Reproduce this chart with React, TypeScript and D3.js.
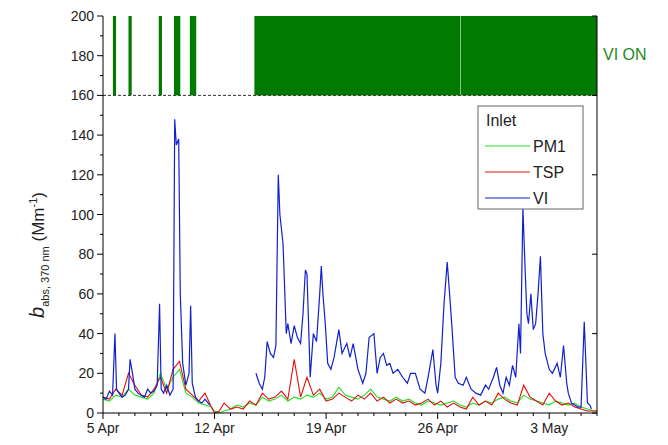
import * as d3 from 'd3';

// days since 5 Apr
const viDays = [0, 0.2, 0.4, 0.6, 0.75, 0.85, 1.0, 1.2, 1.4, 1.6, 1.7, 1.85, 2.0, 2.2, 2.4, 2.6, 2.8, 3.0, 3.2, 3.4, 3.55, 3.65, 3.8, 4.0, 4.2, 4.4, 4.5, 4.6, 4.75, 4.85, 5.0, 5.2, 5.4, 5.5, 5.6, 5.8, 6.0, 6.2, 6.4, 6.7,
  null,
  9.6, 9.8, 10.0, 10.15, 10.3, 10.5, 10.7, 10.85, 11.0, 11.1, 11.3, 11.5, 11.6, 11.8, 12.0, 12.2, 12.4, 12.55, 12.7, 12.8, 12.9, 13.0, 13.2, 13.4, 13.6, 13.7, 13.8, 13.95, 14.1, 14.3, 14.5, 14.8, 15.0, 15.3, 15.5, 15.7, 16.0, 16.3, 16.5, 16.7, 17.0, 17.2, 17.4, 17.6, 17.8, 18.0, 18.2, 18.5, 18.8, 19.1, 19.3, 19.6, 19.9, 20.2, 20.4, 20.7, 20.9, 21.0, 21.2, 21.4, 21.6, 21.75, 21.9, 22.1, 22.3, 22.6, 22.8, 23.1, 23.4, 23.7, 24.0, 24.2, 24.5, 24.7, 24.9, 25.1, 25.3, 25.5, 25.7, 25.9, 26.1, 26.2, 26.35, 26.5, 26.6, 26.7, 26.85, 27.0, 27.15, 27.3, 27.45, 27.6, 27.75, 28.0, 28.2, 28.5, 28.7, 28.9, 29.1, 29.2, 29.4, 29.6, 29.8, 30.0, 30.2, 30.4, 30.55, 30.65, 30.8, 31.0];
const viValues = [8, 7, 11, 9, 40, 12, 10, 8, 9, 12, 27, 20, 12, 10, 9, 8, 12, 10, 11, 14, 55, 12, 10, 14, 9, 12, 148, 135, 138, 60, 25, 14, 20, 54, 15, 8, 6, 5, 7, 4,
  null,
  20, 15, 12, 18, 36, 30, 28, 34, 120, 100, 85, 40, 45, 35, 44, 38, 35, 50, 72, 70, 45, 18, 40, 36, 60, 74, 60, 45, 25, 22, 28, 42, 30, 35, 28, 35, 22, 15, 20, 38, 40, 20, 28, 30, 24, 25, 20, 22, 18, 15, 20, 20, 12, 10, 18, 32, 14, 10, 25, 55, 76, 60, 43, 18, 15, 14, 18, 12, 10, 9, 14, 12, 18, 23, 14, 10, 18, 14, 24, 18, 45, 30, 103, 70, 50, 45, 60, 42, 45, 60, 79, 40, 30, 22, 20, 25, 18, 34, 15, 10, 5, 4, 3, 3, 46, 5, 4, 2];

const pmDays = [0, 0.4, 0.8, 1.2, 1.6, 2.0, 2.4, 2.8, 3.2, 3.6, 4.0, 4.4, 4.8, 5.2, 5.6, 6.0, 6.4, 6.8, 7.0, 7.3, 7.6, 8.0, 8.4, 8.8, 9.2, 9.6, 10.0, 10.4, 10.8, 11.2, 11.6, 12.0, 12.4, 12.8, 13.2, 13.6, 14.0, 14.4, 14.8, 15.2, 15.6, 16.0, 16.4, 16.8, 17.2, 17.6, 18.0, 18.4, 18.8, 19.2, 19.6, 20.0, 20.4, 20.8, 21.2, 21.6, 22.0, 22.4, 22.8, 23.2, 23.6, 24.0, 24.4, 24.8, 25.2, 25.6, 26.0, 26.4, 26.8, 27.2, 27.6, 28.0, 28.4, 28.8, 29.2, 29.6, 30.0, 30.4, 30.8, 31.0];
const pm1Values = [7, 6, 9, 8, 12, 9, 8, 7, 10, 20, 12, 18, 22, 10, 8, 5, 4, 3, 1, 0, 1, 2, 4, 3, 5, 4, 8, 6, 7, 9, 6, 8, 7, 9, 8, 10, 7, 8, 13, 9, 8, 7, 9, 12, 8, 7, 6, 8, 6, 7, 5, 4, 6, 5, 4, 5, 6, 4, 3, 5, 4, 6, 5, 7, 8, 6, 5, 9, 7, 6, 5, 4, 6, 5, 4, 5, 3, 2, 1, 1];
const tspValues = [8, 7, 12, 9, 20, 14, 9, 8, 12, 18, 10, 22, 26, 12, 9, 6, 10, 3, 0, 1, 5, 2, 3, 2, 6, 4, 10, 7, 8, 11, 7, 27, 8, 18, 9, 12, 6, 7, 10, 8, 6, 9, 7, 10, 6, 8, 5, 7, 5, 6, 4, 5, 7, 4, 6, 3, 5, 3, 2, 8, 4, 6, 4, 10, 7, 5, 4, 14, 8, 6, 4, 10, 6, 4, 5, 3, 2, 1, 1, 1];

const viOnStart = [0.62, 1.6, 3.5, 4.45, 5.45, 9.5, 22.45];
const viOnEnd = [0.82, 1.8, 3.7, 4.85, 5.85, 22.42, 31];

const yTicks = [0, 20, 40, 60, 80, 100, 120, 140, 160, 180, 200];
const xTickLabels = ['5 Apr', '12 Apr', '19 Apr', '26 Apr', '3 May'];

export default function App() {
  const left = 103, right = 597, top = 16, bottom = 413;
  const x = d3.scaleLinear().domain([0, 31]).range([left, right]);
  const y = d3.scaleLinear().domain([0, 200]).range([bottom, top]);

  const mk = (days: (number | null)[], vals: (number | null)[]) =>
    d3.line<number>()
      .defined(i => days[i] !== null && vals[i] !== null)
      .x(i => x(days[i] as number))
      .y(i => y(vals[i] as number))(d3.range(days.length)) || '';

  const font = 'Liberation Sans, Arial, sans-serif';
  return (
    <svg width={668} height={445} style={{ position: 'absolute', left: 0, top: 0, fontFamily: font }}>
      {viOnStart.map((s, i) => (
        <rect key={i} x={x(s)} y={y(200)} width={x(viOnEnd[i]) - x(s)} height={y(160) - y(200)} fill="#007a00" />
      ))}
      <line x1={left} x2={right} y1={y(160)} y2={y(160)} stroke="#333" strokeDasharray="3,2" strokeWidth={1} />
      <path d={mk(pmDays, pm1Values)} fill="none" stroke="#22dd22" strokeWidth={1.1} />
      <path d={mk(pmDays, tspValues)} fill="none" stroke="#e01010" strokeWidth={1.1} />
      <path d={mk(viDays, viValues)} fill="none" stroke="#1020cc" strokeWidth={1.2} />
      {/* axes */}
      <line x1={left} x2={left} y1={top} y2={bottom} stroke="#000" />
      <line x1={right} x2={right} y1={top} y2={bottom} stroke="#000" />
      <line x1={left} x2={right} y1={bottom} y2={bottom} stroke="#000" />
      {d3.range(0, 201, 10).map(v => {
        const major = v % 20 === 0;
        return (
          <g key={v}>
            <line x1={left - (major ? 6 : 3)} x2={left} y1={y(v)} y2={y(v)} stroke="#000" />
            {v % 40 === 0 && <line x1={right - 5} x2={right} y1={y(v)} y2={y(v)} stroke="#000" />}
          </g>
        );
      })}
      {yTicks.map(v => (
        <text key={v} x={left - 9} y={y(v) + 5} fontSize={14} textAnchor="end" fill="#222">{v}</text>
      ))}
      {d3.range(0, 32).map(d => (
        <line key={d} x1={x(d)} x2={x(d)} y1={bottom} y2={bottom + (d % 7 === 0 ? 6 : 3)} stroke="#000" />
      ))}
      {xTickLabels.map((t, i) => (
        <text key={t} x={x(i * 7)} y={bottom + 20} fontSize={14} textAnchor="middle" fill="#222">{t}</text>
      ))}
      <text transform="translate(44,255) rotate(-90)" textAnchor="middle" fontSize={17} fill="#222">
        <tspan fontStyle="italic" fontSize={20}>b</tspan>
        <tspan fontSize={11} dy={5}>abs, 370 nm</tspan>
        <tspan dy={-5}> (Mm</tspan>
        <tspan fontSize={11} dy={-7}>-1</tspan>
        <tspan dy={7}>)</tspan>
      </text>
      <text x={603} y={60} fontSize={16} fill="#1a8a1a">VI ON</text>
      {/* legend */}
      <rect x={478} y={106} width={105} height={103} fill="#fff" stroke="#666" />
      <text x={486} y={126} fontSize={16} fill="#222">Inlet</text>
      {[['PM1', '#22dd22'], ['TSP', '#e01010'], ['VI', '#1020cc']].map(([n, c], i) => (
        <g key={n}>
          <line x1={485} x2={530} y1={146 + i * 26} y2={146 + i * 26} stroke={c} />
          <text x={533} y={152 + i * 26} fontSize={16} fill="#222">{n}</text>
        </g>
      ))}
    </svg>
  );
}
